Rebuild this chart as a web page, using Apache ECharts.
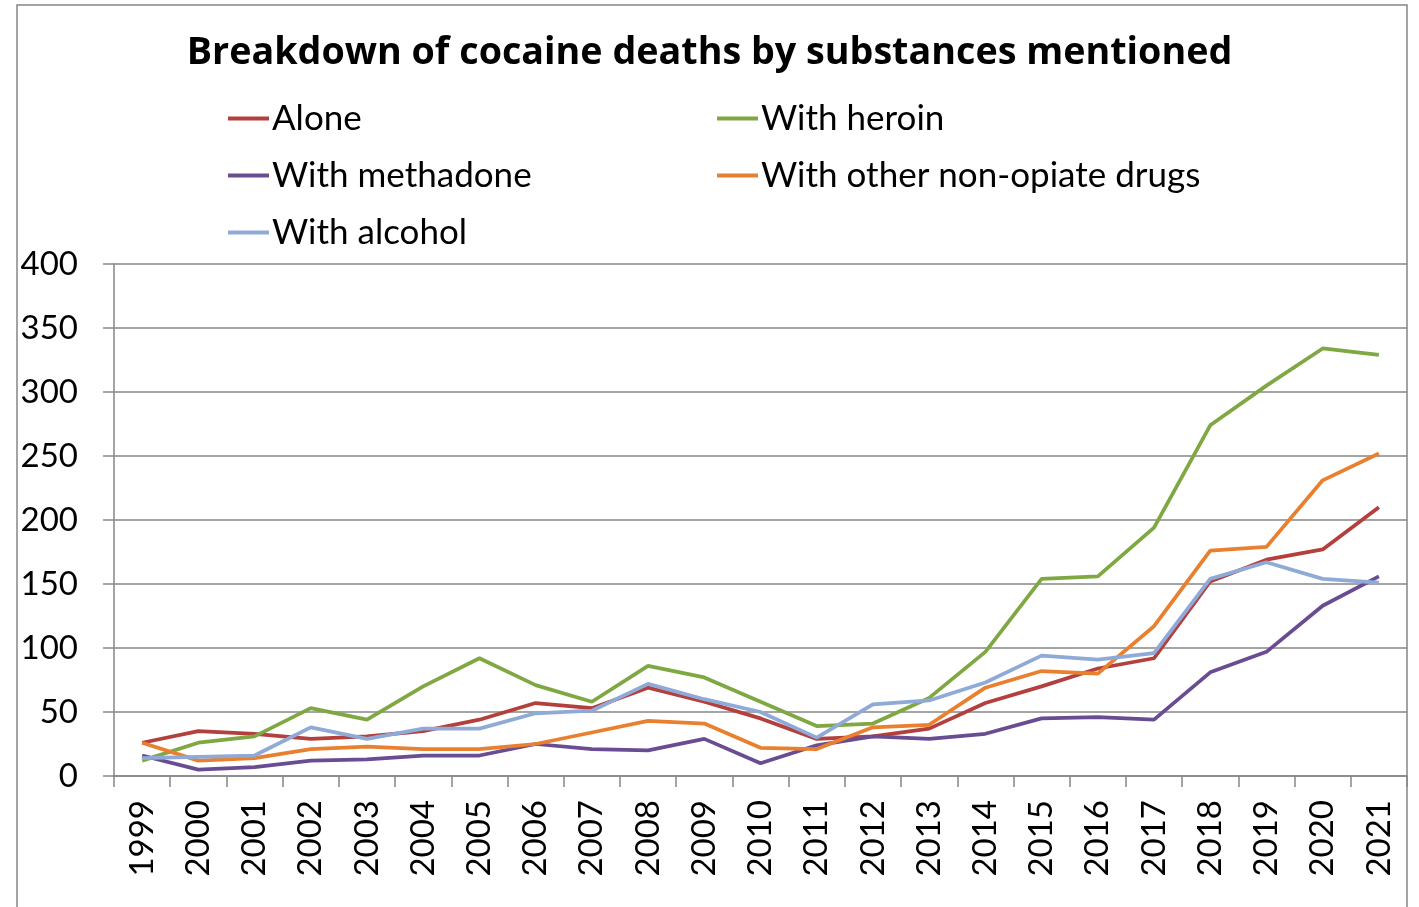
<!DOCTYPE html>
<html><head><meta charset="utf-8">
<script src="https://cdn.jsdelivr.net/npm/echarts@6/dist/echarts.min.js"></script>
<style>html,body{margin:0;padding:0;background:#fff}#c{width:1419px;height:907px}</style>
</head><body><div id="c"></div>
<script>
const years = ['1999','2000','2001','2002','2003','2004','2005','2006','2007','2008','2009','2010','2011','2012','2013','2014','2015','2016','2017','2018','2019','2020','2021'];
const alone     = [26,35,33,29,31,35,44,57,53,69,58,45,29,31,37,57,70,84,92,152,169,177,210];
const heroin    = [12,26,31,53,44,70,92,71,58,86,77,58,39,41,61,97,154,156,194,274,305,334,329];
const methadone = [16,5,7,12,13,16,16,25,21,20,29,10,24,31,29,33,45,46,44,81,97,133,156];
const otherDrugs= [26,12,14,21,23,21,21,25,34,43,41,22,21,38,40,69,82,80,117,176,179,231,252];
const alcohol   = [14,15,16,38,29,37,37,49,51,72,60,50,30,56,59,73,94,91,96,154,167,154,151];
const yTicks = [0,50,100,150,200,250,300,350,400];
const seriesNames = ['Alone','With heroin','With methadone','With other non-opiate drugs','With alcohol'];

const colors = ['#B3403D','#7FA843','#6A4C93','#E8802F','#8FAAD6'];
const FONT = 'Lato';
const chart = echarts.init(document.getElementById('c'));
const dataSets = [alone, heroin, methadone, otherDrugs, alcohol];
const legendPos = [[228,101],[717,101],[228,158],[717,158],[228,215]];
chart.setOption({
  animation:false,
  backgroundColor:'#fff',
  title:{text:'Breakdown of cocaine deaths by substances mentioned',left:'center',top:29,
    textStyle:{fontFamily:'Open Sans',fontWeight:'bold',fontSize:37.7,color:'#000'}},
  legend: seriesNames.map((n,i)=>({data:[n],left:legendPos[i][0],top:legendPos[i][1],padding:0,
    icon:'rect',itemWidth:41,itemHeight:4,itemGap:4,
    textStyle:{fontFamily:FONT,fontSize:35,color:'#000',padding:[0,0,0,-2]}})),
  grid:{left:114,right:12,top:264,bottom:131},
  xAxis:{type:'category',data:years,boundaryGap:true,
    axisLine:{lineStyle:{color:'#868686',width:1.5}},
    axisTick:{show:true,length:11,lineStyle:{color:'#868686',width:1.5}},
    axisLabel:{rotate:90,margin:24,fontFamily:FONT,fontSize:33,color:'#000'}},
  yAxis:{type:'value',min:0,max:400,interval:50,
    axisLine:{show:true,lineStyle:{color:'#868686',width:1.5}},
    axisTick:{show:true,length:11,lineStyle:{color:'#868686',width:1.5}},
    splitLine:{lineStyle:{color:'#868686',width:1.5}},
    axisLabel:{margin:36,fontFamily:FONT,fontSize:33,color:'#000',
      formatter:v=>yTicks.includes(v)?String(v):''}},
  graphic:[{type:'rect',shape:{x:17,y:5,width:1390,height:920},
    style:{fill:'none',stroke:'#868686',lineWidth:1.5},silent:true,z:-1}],
  series: seriesNames.map((n,i)=>({name:n,type:'line',data:dataSets[i],
    symbol:'none',lineStyle:{width:3.75,color:colors[i]},itemStyle:{color:colors[i]}}))
});
</script></body></html>
